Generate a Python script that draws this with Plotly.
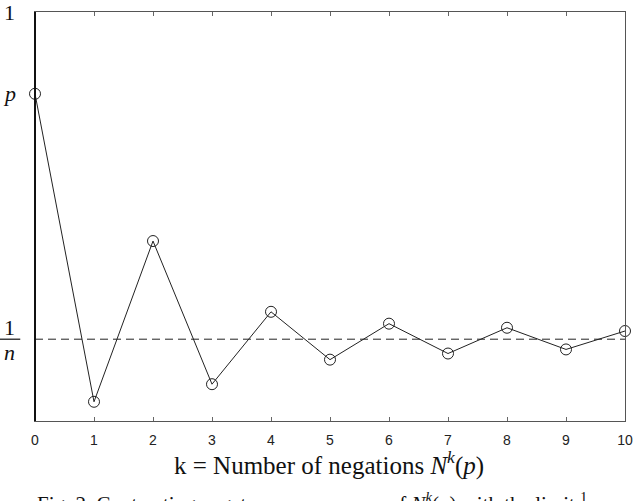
import plotly.graph_objects as go

k_values = [0, 1, 2, 3, 4, 5, 6, 7, 8, 9, 10]
negation_values = [0.80, 0.047, 0.44, 0.09, 0.267, 0.15, 0.238, 0.165, 0.228, 0.175, 0.22]
limit_value = 0.2
p_value = 0.80
top_value = 1.0
x_tick_labels = [str(k) for k in k_values]

fig = go.Figure()

fig.add_trace(go.Scatter(
    x=[k_values[0], k_values[-1]], y=[limit_value, limit_value],
    mode="lines", line=dict(color="#222", width=1, dash="8px,5px"),
    hoverinfo="skip", showlegend=False, cliponaxis=False,
))

fig.add_trace(go.Scatter(
    x=k_values, y=negation_values, mode="lines+markers",
    line=dict(color="#222", width=1),
    marker=dict(symbol="circle-open", size=11, color="#222", line=dict(width=1)),
    showlegend=False, cliponaxis=False,
))

serif = "Liberation Serif, Times New Roman, serif"

fig.update_layout(
    width=640, height=501,
    margin=dict(l=35, r=15, t=12, b=80),
    paper_bgcolor="white", plot_bgcolor="white",
    xaxis=dict(
        range=[0, 10], tickvals=k_values, ticktext=x_tick_labels,
        ticks="inside", ticklen=4, tickcolor="#666", mirror="ticks",
        showline=True, linecolor="#555", linewidth=1, showgrid=False, zeroline=False,
        tickfont=dict(family="Liberation Sans, Arial, sans-serif", size=14, color="#222"),
        ticklabelstandoff=6, automargin=False,
    ),
    yaxis=dict(
        range=[0, 1], showticklabels=False,
        ticks="", mirror=True,
        showline=True, linecolor="#555", linewidth=1, showgrid=False, zeroline=False,
        automargin=False,
    ),
    font=dict(family=serif, color="#111"),
)

# darker left axis line
fig.add_shape(type="line", xref="paper", yref="paper", x0=0, x1=0, y0=0, y1=1,
              line=dict(color="#111", width=2))

label_x = -0.043
# "1" and "p" labels on the y axis
fig.add_annotation(xref="paper", yref="y", x=label_x, y=top_value, text="1",
                   showarrow=False, font=dict(family=serif, size=22, color="#111"),
                   xanchor="center", yanchor="middle")
fig.add_annotation(xref="paper", yref="y", x=label_x, y=p_value, text="<i>p</i>",
                   showarrow=False, font=dict(family=serif, size=22, color="#111"),
                   xanchor="center", yanchor="middle")

# 1/n fraction label
fig.add_annotation(xref="paper", yref="y", x=label_x, y=limit_value, yshift=12,
                   text="1", showarrow=False, font=dict(family=serif, size=22, color="#111"),
                   xanchor="center", yanchor="middle")
fig.add_annotation(xref="paper", yref="y", x=label_x, y=limit_value, yshift=-13,
                   text="<i>n</i>", showarrow=False, font=dict(family=serif, size=22, color="#111"),
                   xanchor="center", yanchor="middle")
fig.add_shape(type="line", xref="paper", yref="y", x0=-0.06, x1=-0.025,
              y0=limit_value, y1=limit_value, line=dict(color="#111", width=1.2))

# x-axis title
fig.add_annotation(xref="paper", yref="paper", x=0.498, y=0, yshift=-42,
                   text="k = Number of negations <i>N</i><sup><i>k</i></sup>(<i>p</i>)",
                   showarrow=False, font=dict(family=serif, size=25, color="#111"),
                   xanchor="center", yanchor="middle")

# caption (partly cut off at the bottom in the reference)
fig.add_annotation(xref="paper", yref="paper", x=0.47, y=0, yshift=-66,
                   text="Fig. 2. Contracting negator as a sequence of <i>N<sup>k</sup></i>(<i>p</i>) with the limit <sup>1</sup>",
                   showarrow=False, font=dict(family=serif, size=21, color="#111"),
                   xanchor="center", yanchor="top")

fig.write_html("out.html", config={"displayModeBar": False},
               post_script="document.body.style.margin='0';document.body.style.overflow='hidden';")
